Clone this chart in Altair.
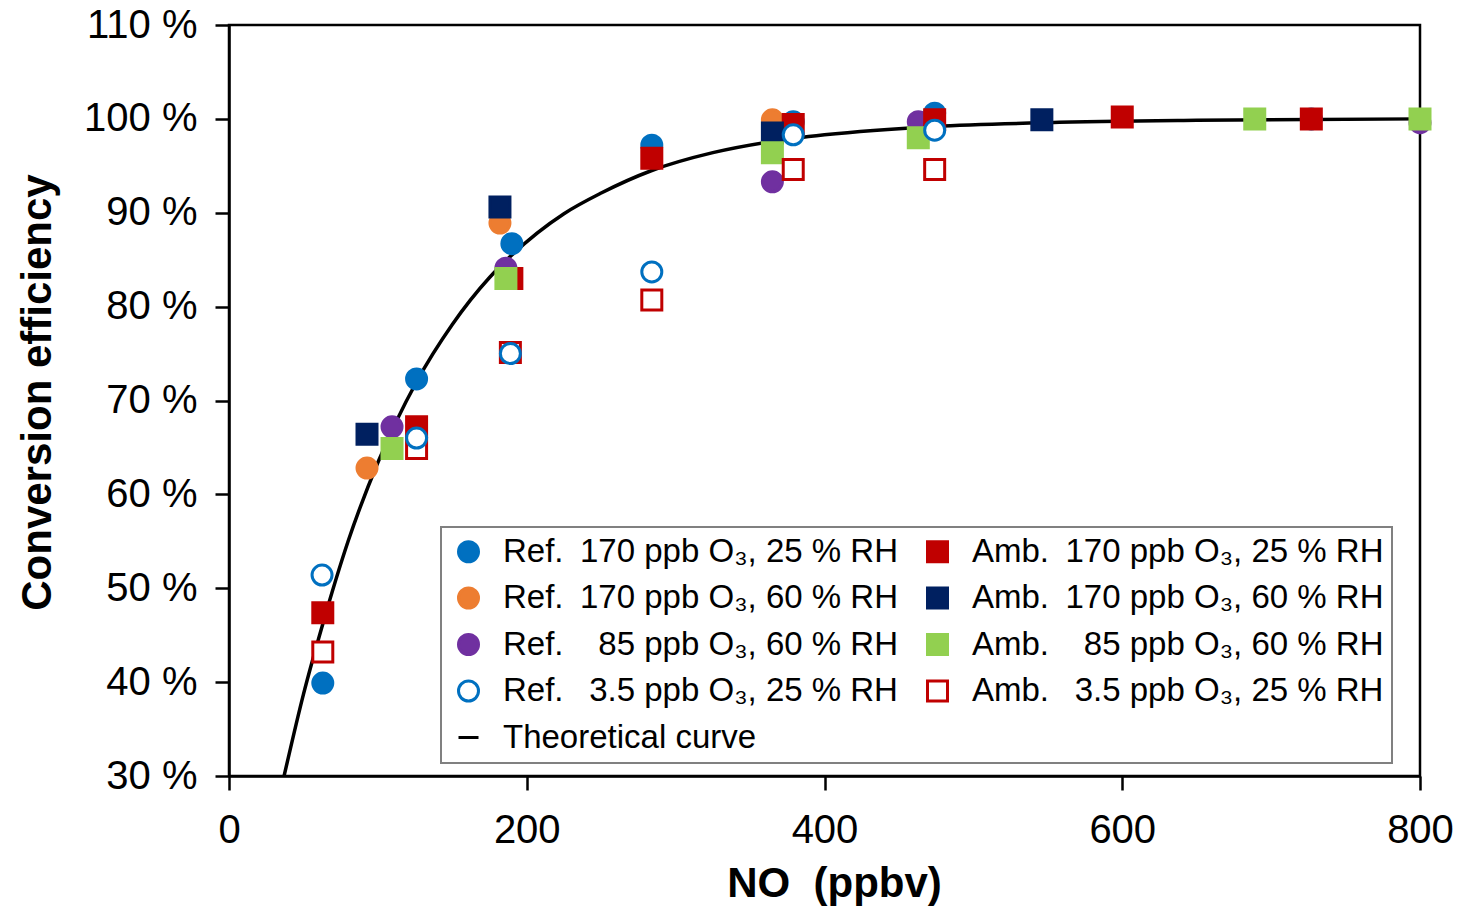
import pandas as pd
import altair as alt

# series labels
REF_170_25 = "Ref.\u2002170 ppb O\u2083, 25 %\u00a0RH"
AMB_170_25 = "Amb.\u2002170 ppb O\u2083, 25 %\u00a0RH"
REF_170_60 = "Ref.\u2002170 ppb O\u2083, 60 %\u00a0RH"
AMB_170_60 = "Amb.\u2002170 ppb O\u2083, 60 %\u00a0RH"
REF_85_60 = "Ref.\u2002\u200785 ppb O\u2083, 60 %\u00a0RH"
AMB_85_60 = "Amb.\u2002\u200785 ppb O\u2083, 60 %\u00a0RH"
REF_35_25 = "Ref.\u2002\u20083.5 ppb O\u2083, 25 %\u00a0RH"
AMB_35_25 = "Amb.\u2002\u20083.5 ppb O\u2083, 25 %\u00a0RH"
THEORY = "Theoretical curve"

# NO (ppbv) / conversion efficiency (%)
ref170_25_x = [63, 126, 190, 284, 379, 474, 727]
ref170_25_y = [39.9, 72.3, 86.7, 97.2, 99.7, 100.6, 100.0]
ref170_60_x = [92.7, 182, 365]
ref170_60_y = [62.8, 88.9, 99.9]
ref85_60_x = [109.5, 186, 365, 463, 800]
ref85_60_y = [67.2, 84.1, 93.3, 99.7, 99.6]
ref35_25_x = [62.5, 126, 189, 284, 379, 474]
ref35_25_y = [51.4, 66.0, 75.0, 83.7, 98.3, 98.8]
amb170_25_x = [63, 126, 190, 284, 379, 474, 600, 727]
amb170_25_y = [47.4, 67.2, 83.0, 95.8, 99.4, 99.9, 100.2, 100.0]
amb170_60_x = [92.7, 182, 365, 546]
amb170_60_y = [66.4, 90.6, 98.5, 99.9]
amb85_60_x = [109.5, 186, 365, 463, 689, 800]
amb85_60_y = [64.9, 83.0, 96.4, 98.0, 100.0, 100.0]
amb35_25_x = [63, 126, 189, 284, 379, 474]
amb35_25_y = [43.2, 64.9, 75.1, 80.7, 94.6, 94.6]

# theoretical curve, points
curve_x = [37, 50, 63, 80, 100, 126, 150, 175, 190, 225, 250, 284, 325, 365, 400, 474, 550, 650, 800]
curve_y = [30.0, 38.7, 46.2, 55.0, 63.4, 72.0, 78.1, 83.1, 85.5, 89.9, 92.1, 94.5, 96.4, 97.6,
           98.3, 99.2, 99.6, 99.85, 100.0]

# legend fills column by column: Ref. entries + curve left, Amb. entries right
legend_order = [REF_170_25, REF_170_60, REF_85_60, REF_35_25, THEORY,
                AMB_170_25, AMB_170_60, AMB_85_60, AMB_35_25]
shapes = ["circle", "circle", "circle", "circle", "stroke", "square", "square", "square", "square"]
fills = ["#0070C0", "#ED7D31", "#7030A0", "white", "transparent", "#C00000", "#002060", "#92D050", "white"]
strokes = ["#0070C0", "#ED7D31", "#7030A0", "#0070C0", "black", "#C00000", "#002060", "#92D050", "#C00000"]

# drawing order (later rows on top)
draw = [
    (REF_170_25, ref170_25_x, ref170_25_y),
    (REF_170_60, ref170_60_x, ref170_60_y),
    (REF_85_60, ref85_60_x, ref85_60_y),
    (AMB_170_25, amb170_25_x, amb170_25_y),
    (AMB_170_60, amb170_60_x, amb170_60_y),
    (AMB_85_60, amb85_60_x, amb85_60_y),
    (AMB_35_25, amb35_25_x, amb35_25_y),
    (REF_35_25, ref35_25_x, ref35_25_y),
]
rows = []
for name, xs, ys in draw:
    for x, y in zip(xs, ys):
        rows.append({"series": name, "no": x, "eff": y})
df = pd.DataFrame(rows)
curve = pd.DataFrame({"no": curve_x, "eff": curve_y})

FONT = "Liberation Sans"

x_enc = alt.X("no:Q", scale=alt.Scale(domain=[0, 800], nice=False),
              axis=alt.Axis(title="NO\u00a0\u00a0(ppbv)", values=[0, 200, 400, 600, 800],
                            labelFlush=False, labelPadding=20,
                            titleX=605, titleY=120, titleBaseline="alphabetic", titleAlign="center"))
y_enc = alt.Y("eff:Q", scale=alt.Scale(domain=[30, 110], nice=False),
              axis=alt.Axis(title="Conversion efficiency", values=list(range(30, 111, 10)),
                            labelExpr="datum.value + ' %'", labelPadding=18, labelFlush=False,
                            titleAngle=270, titleX=-179, titleY=367, titleBaseline="alphabetic",
                            titleAlign="center"))

line = alt.Chart(curve).mark_line(color="black", strokeWidth=3.5, interpolate="monotone").encode(
    x=x_enc, y=y_enc
)

points = alt.Chart(df).mark_point(opacity=1, strokeWidth=3, size=400).encode(
    x=x_enc,
    y=y_enc,
    shape=alt.Shape("series:N", scale=alt.Scale(domain=legend_order, range=shapes), title=None),
    fill=alt.Fill("series:N", scale=alt.Scale(domain=legend_order, range=fills), title=None),
    stroke=alt.Stroke("series:N", scale=alt.Scale(domain=legend_order, range=strokes), title=None),
)

chart = alt.layer(line, points).properties(
    width=1191, height=751,
    autosize=alt.AutoSizeParams(type="none"),
    padding={"left": 221, "top": 17, "right": 35, "bottom": 130},
).configure_view(
    stroke="black", strokeWidth=2.5
).configure_axis(
    grid=False, domainColor="black", domainWidth=2.5, tickColor="black", tickWidth=2.5,
    tickSize=14, labelFont=FONT, labelFontSize=40, labelColor="black",
    titleFont=FONT, titleFontSize=42, titleFontWeight="bold", titleColor="black",
).configure_legend(
    orient="none", legendX=212, legendY=502, columns=2, columnPadding=20, rowPadding=12.5,
    padding=8, symbolOffset=3, labelOffset=18, symbolSize=400, symbolStrokeWidth=3,
    labelFont=FONT, labelFontSize=33, labelColor="black", labelBaseline="middle",
    strokeColor="#808080", strokeWidth=2, fillColor="white", labelLimit=0,
)

chart.save("out.html", embed_options={"renderer": "svg", "actions": False})
